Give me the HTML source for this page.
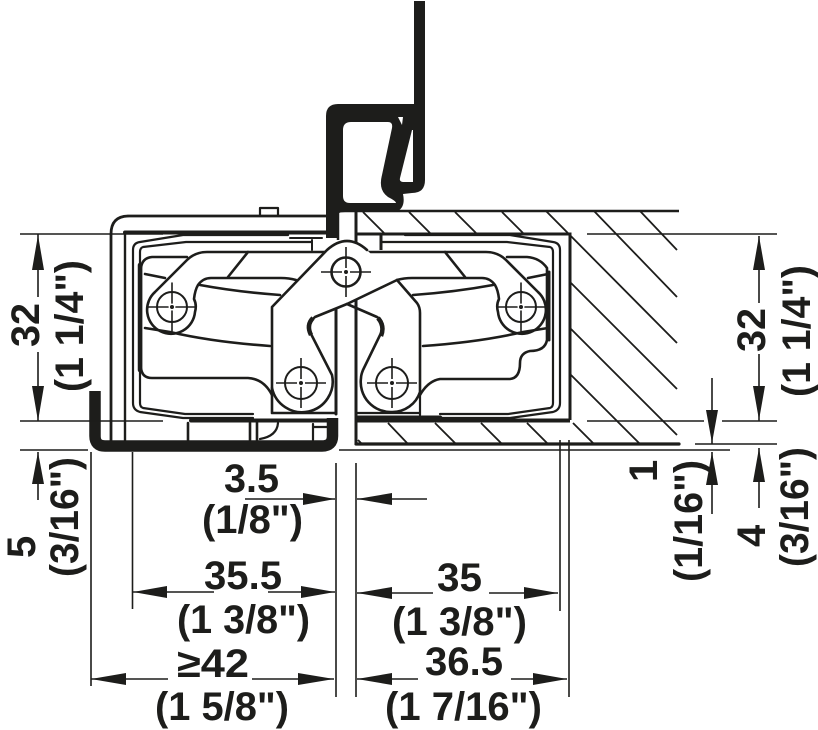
<!DOCTYPE html>
<html><head><meta charset="utf-8"><style>
html,body{margin:0;padding:0;background:#fff}
svg{display:block}
text{font-family:"Liberation Sans",sans-serif;font-weight:bold;font-size:40px;fill:#1d1d1b}
</style></head><body>
<svg width="818" height="730" viewBox="0 0 818 730" xmlns="http://www.w3.org/2000/svg">
<defs>
<clipPath id="hc"><path d="M356,212H678V444H356V421H570V234H356Z"/></clipPath>
<g id="side" fill="none" stroke="#1d1d1b" stroke-width="2.6" stroke-linejoin="round" stroke-linecap="round">
  <path d="M405,235H510L553,242Q560,243 560,250V403Q560,410 553,412L510,418H440" stroke-width="2.2"/>
  <path d="M382,242H507L550,247Q553,248 553,252V403Q553,407 550,408L508,414H440" stroke-width="2.2"/>
  <path d="M368,252H486Q498,252 506,260L538,292A24,24 0 1 1 498,312Q496,305 499,299Q498,290 495,285Q490,278 482,278H412Q404,278 397,280"/>
  <circle cx="521" cy="307" r="15" stroke-width="2"/>
  <path d="M521,283V331M497,307H545" stroke-width="1.6" stroke-dasharray="20 3 2 3 20"/>
  <path d="M413,295Q455,292 493,285M528,278L548,274M423,346Q480,342 523,332L548,328M445,252L465,277"/>
</g>
</defs>

<!-- hatching -->
<g clip-path="url(#hc)" stroke="#1d1d1b" stroke-width="1.8" fill="none">
<path d="M358,440L362,444M388,423L408,444M435,423L456,444M481,423L502,444M527,423L548,444M573,423L594,444M570,374L640,444M570,328L677,435M570,282L677,389M546,211L677,343M363,212L384,233M409,212L430,233M455,212L476,233M502,212L523,233M594,211L677,297M640,211L677,250"/>
</g>
<!-- wall -->
<g stroke="#1d1d1b" fill="none">
<path d="M340,211H679" stroke-width="2.6"/>
<path d="M356,444H679" stroke-width="3.2" stroke-linecap="round"/>
<path d="M356,212V445" stroke-width="3"/>
<path d="M356,234H570V420" stroke-width="3"/>
<path d="M356,420.5H570" stroke-width="4"/>
<path d="M339,450H730" stroke-width="1.6"/>
<path d="M381,235V250" stroke-width="3"/>
</g>

<!-- mirrored mechanism -->
<use href="#side"/>
<use href="#side" transform="translate(693,0) scale(-1,1)"/>

<!-- bodies -->
<g fill="none" stroke="#1d1d1b" stroke-width="2.6" stroke-linejoin="round" stroke-linecap="round">
  <path d="M507,257H527Q540,258 547,268V340Q545,351 530,351Q520,353 520,363Q520,378 510,379H440Q428,381 420,395"/>
  <path d="M549,272V340" stroke-width="3"/>
  <path d="M187,257H152Q142,258 141,268V368Q142,378 152,378H248Q264,379 272,395"/>
  <path d="M140,265V370" stroke-width="4.5"/>
  <!-- center verticals -->
  <path d="M336,310V414" stroke-width="3"/>
  <!-- main plate fill -->
  <path d="M272,412V307L327,250Q347,232 367,250L397,280L347,304L315,317Q308,322 310,330L332,375V412Z" fill="#fff" stroke="none"/>
  <!-- plate outline -->
  <path d="M367,250Q347,232 327,250L272,307V413H335"/>
  <path d="M397,280L347,304L315,317Q308,322 310,332L332,375A29,29 0 1 1 272,388"/>
  <path d="M313,318Q306,325 311,335" stroke-width="4.5" stroke-linecap="butt"/>
  <!-- right lower arm -->
  <path d="M397,280L417,303Q420,307 420,313V392A29,29 0 0 1 392,412A30,30 0 0 1 361,378Q361,375 363,370L383,329Q383,320 377,317L347,304"/>
  <path d="M378,318Q385,326 381,336" stroke-width="4.5" stroke-linecap="butt"/>
  <path d="M420,392V415M357,413H420" stroke-width="2.2"/>
  <path d="M358,418H440" stroke-width="5"/>
  <path d="M191,420.5H336" stroke-width="4"/>
  <path d="M188,423V440M250,423V440M257,421V440" stroke-width="2.6"/>
  <path d="M278,423Q277,436 260,439" stroke-width="2.2"/>
  <path d="M313,424V440M313,427H327" stroke-width="2.2"/>
  <!-- outer shell -->
  <path d="M326,216H129Q111,216 111,234V442" stroke-width="2.8"/>
  <path d="M125,232V442" stroke-width="2.4"/>
  <path d="M125,232.5H326" stroke-width="4"/>
  <path d="M260,215V208H278V215" stroke-width="2.2"/>
  <path d="M290,238H322M312,240V250" stroke-width="2"/>
</g>

<!-- pivot and lower circles -->
<g fill="none" stroke="#1d1d1b" stroke-width="2">
  <circle cx="346" cy="272" r="14.5" stroke-width="2.6"/>
  <circle cx="301" cy="383" r="16"/>
  <circle cx="392" cy="383" r="16"/>
  <path d="M346,247V297M321,272H371M301,358V408M276,383H326M392,358V408M367,383H417" stroke-width="1.6" stroke-dasharray="21 3 2 3 21"/>
</g>
<g fill="#1d1d1b"><circle cx="346" cy="272" r="2"/><circle cx="301" cy="383" r="2"/><circle cx="392" cy="383" r="2"/><circle cx="172" cy="307" r="2"/><circle cx="521" cy="307" r="2"/></g>

<!-- black channel -->
<path d="M95,391V436Q95,446 105,446H322Q332.5,446 332.5,436V418" fill="none" stroke="#1d1d1b" stroke-width="11.5"/>

<!-- black profile at top -->
<path d="M326,116Q326,104 338,104H414V1H425V180Q425,193 412,193L403,194Q406,208 396,212H345Q338,212 338,215V238H326Z" fill="#1d1d1b"/>
<path d="M343,130Q343,122 351,122H388Q393,122 392,128L382,175Q378,190 388,197Q396,201 396,203H350Q343,203 343,196Z" fill="#fff"/>
<path d="M412,130L400,178Q399,182 404,182H413V130Z" fill="#fff"/>
<path d="M398,117H403L402,125Z" fill="#fff"/>
<path d="M338,212V240" stroke="#1d1d1b" stroke-width="2.5"/>

<!-- dimension lines -->
<g stroke="#1d1d1b" fill="none" stroke-width="1.6">
  <path d="M20,234H163M20,421H163M20,450H88"/>
  <path d="M587,234H777M587,421H704M722,421H777M695,444H777"/>
  <path d="M91,452V686M132.5,452V609M336,463V697M356,463V697M560,440V611M569,440V697"/>
  <path d="M245,499H335M357,499H427"/>
  <path d="M133,592H214M268,592H335M91,679H168M252,679H334"/>
  <path d="M357,593H433M489,593H558M357,679H418M511,679H567"/>
  <path d="M38,234V297M38,352V421M38,452V500"/>
  <path d="M759,236V303M759,354V421M759,448V508"/>
  <path d="M712,378V444M712,452V514"/>
</g>
<g fill="#1d1d1b">
  <path d="M335,499L303,493V505ZM357,499L392,493V505Z"/>
  <path d="M133,592L167,586V598ZM335,592L301,586V598Z"/>
  <path d="M91,679L126,673V685ZM334,679L298,673V685Z"/>
  <path d="M357,593L392,587V599ZM558,593L524,587V599Z"/>
  <path d="M357,679L392,673V685ZM567,679L533,673V685Z"/>
  <path d="M38,235L32,270H44ZM38,421L32,386H44ZM38,452L32,484H44Z"/>
  <path d="M759,236L753,270H765ZM759,420L753,386H765ZM759,448L753,482H765Z"/>
  <path d="M712,443L706,410H718ZM712,452L706,485H718Z"/>
</g>

<!-- labels -->
<text x="224" y="492" textLength="55" lengthAdjust="spacingAndGlyphs">3.5</text>
<text x="202" y="533" textLength="101" lengthAdjust="spacingAndGlyphs">(1/8")</text>
<text x="204" y="589" textLength="78" lengthAdjust="spacingAndGlyphs">35.5</text>
<text x="177" y="633" textLength="133" lengthAdjust="spacingAndGlyphs">(1 3/8")</text>
<text x="177" y="677" textLength="72" lengthAdjust="spacingAndGlyphs">≥42</text>
<text x="155" y="720" textLength="134" lengthAdjust="spacingAndGlyphs">(1 5/8")</text>
<text x="437" y="591" textLength="45" lengthAdjust="spacingAndGlyphs">35</text>
<text x="392" y="635" textLength="135" lengthAdjust="spacingAndGlyphs">(1 3/8")</text>
<text x="425" y="675" textLength="78" lengthAdjust="spacingAndGlyphs">36.5</text>
<text x="385" y="720" textLength="157" lengthAdjust="spacingAndGlyphs">(1 7/16")</text>

<text transform="translate(39,347) rotate(-90)" textLength="44" lengthAdjust="spacingAndGlyphs">32</text>
<text transform="translate(83,392) rotate(-90)" textLength="132" lengthAdjust="spacingAndGlyphs">(1 1/4")</text>
<text transform="translate(765,352) rotate(-90)" textLength="44" lengthAdjust="spacingAndGlyphs">32</text>
<text transform="translate(810,397) rotate(-90)" textLength="132" lengthAdjust="spacingAndGlyphs">(1 1/4")</text>
<text transform="translate(35,558) rotate(-90)">5</text>
<text transform="translate(78,577) rotate(-90)" textLength="120" lengthAdjust="spacingAndGlyphs">(3/16")</text>
<text transform="translate(657,482) rotate(-90)">1</text>
<text transform="translate(702,582) rotate(-90)" textLength="122" lengthAdjust="spacingAndGlyphs">(1/16")</text>
<text transform="translate(765,547) rotate(-90)">4</text>
<text transform="translate(808,567) rotate(-90)" textLength="120" lengthAdjust="spacingAndGlyphs">(3/16")</text>
</svg>
</body></html>
